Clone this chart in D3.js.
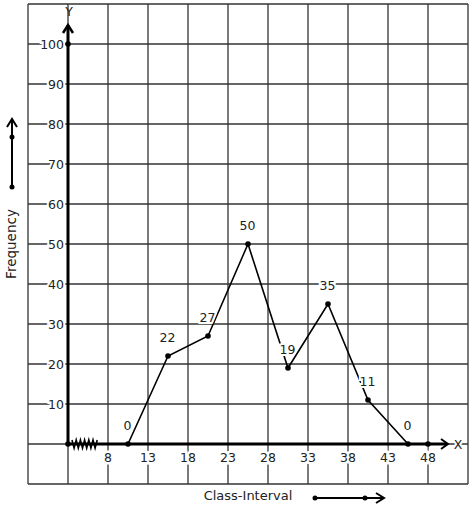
<!DOCTYPE html>
<html>
<head>
<meta charset="utf-8">
<script src="https://cdn.jsdelivr.net/npm/d3@7"></script>
<style>
  html, body { margin: 0; padding: 0; background: #fff; }
  svg { display: block; font-family: "DejaVu Sans", sans-serif; }
</style>
</head>
<body>
<svg id="chart" width="473" height="510"></svg>
<script>
// ---- data ----
const classMarks = [10.5, 15.5, 20.5, 25.5, 30.5, 35.5, 40.5, 45.5];
const frequencies = [0, 22, 27, 50, 19, 35, 11, 0];
const xTickValues = [8, 13, 18, 23, 28, 33, 38, 43, 48];
const yTickValues = [10, 20, 30, 40, 50, 60, 70, 80, 90, 100];
const xGridValues = [-2, 3, 8, 13, 18, 23, 28, 33, 38, 43, 48, 53];
const yGridValues = [-10, 0, 10, 20, 30, 40, 50, 60, 70, 80, 90, 100, 110];

const svg = d3.select("#chart");
const x = d3.scaleLinear().domain([3, 48]).range([68, 428]);
const y = d3.scaleLinear().domain([0, 100]).range([444, 44]);

const gridColor = "#333";
const xMin = x(-2), xMax = x(53), yTop = y(110), yBot = y(-10);

// grid
const grid = svg.append("g").attr("stroke", gridColor).attr("stroke-width", 1.3);
grid.selectAll("line.v").data(xGridValues).join("line")
  .attr("x1", d => x(d)).attr("x2", d => x(d)).attr("y1", yTop).attr("y2", yBot);
grid.selectAll("line.h").data(yGridValues).join("line")
  .attr("y1", d => y(d)).attr("y2", d => y(d)).attr("x1", xMin).attr("x2", xMax);

// y tick labels
svg.append("g").selectAll("text").data(yTickValues).join("text")
  .attr("x", x(3) - 4).attr("y", d => y(d)).attr("dy", "0.36em")
  .attr("text-anchor", "end").attr("font-size", 12.5).attr("fill", "#222")
  .attr("stroke", "#fff").attr("stroke-width", 4).attr("paint-order", "stroke")
  .text(d => d);

// x tick labels
svg.append("g").selectAll("text").data(xTickValues).join("text")
  .attr("x", d => x(d)).attr("y", y(0) + 13).attr("dy", "0.36em")
  .attr("text-anchor", "middle").attr("font-size", 12.5).attr("fill", "#222")
  .attr("stroke", "#fff").attr("stroke-width", 5).attr("paint-order", "stroke")
  .text(d => d);

// axes
const x0 = x(3), y0 = y(0);
svg.append("line").attr("x1", x0).attr("x2", 447).attr("y1", y0).attr("y2", y0)
  .attr("stroke", "#000").attr("stroke-width", 3);
svg.append("line").attr("x1", x0).attr("x2", x0).attr("y1", y0).attr("y2", 25)
  .attr("stroke", "#000").attr("stroke-width", 3);
// arrowheads
svg.append("path").attr("d", `M441,${y0 - 5}L448,${y0}L441,${y0 + 5}`)
  .attr("fill", "none").attr("stroke", "#000").attr("stroke-width", 2);
svg.append("path").attr("d", `M${x0 - 5},33L${x0},25L${x0 + 5},33`)
  .attr("fill", "none").attr("stroke", "#000").attr("stroke-width", 2.5);
// axis letters
svg.append("text").attr("x", 458).attr("y", y0).attr("dy", "0.36em")
  .attr("text-anchor", "middle").attr("font-size", 12.5).attr("fill", "#222")
  .attr("stroke", "#fff").attr("stroke-width", 4).attr("paint-order", "stroke").text("X");
svg.append("text").attr("x", x0 + 1).attr("y", 11).attr("dy", "0.36em")
  .attr("text-anchor", "middle").attr("font-size", 12.5).attr("fill", "#222").text("Y");

// zigzag (break) on x axis
const zz = [];
for (let i = 0; i <= 12; i++) zz.push([72 + i * 2.1, i % 2 === 0 ? y0 - 4 : y0 + 4]);
svg.append("path").attr("d", d3.line()(zz))
  .attr("fill", "none").attr("stroke", "#000").attr("stroke-width", 1.6);

// axis dots
svg.append("g").selectAll("circle").data([[x0, y0], [x0, y(100)], [x(48), y0]]).join("circle")
  .attr("cx", d => d[0]).attr("cy", d => d[1]).attr("r", 2.8).attr("fill", "#000");

// frequency polygon
const pts = classMarks.map((c, i) => [x(c), y(frequencies[i])]);
svg.append("path").attr("d", d3.line()(pts))
  .attr("fill", "none").attr("stroke", "#000").attr("stroke-width", 1.6);
svg.append("g").selectAll("circle").data(pts).join("circle")
  .attr("cx", d => d[0]).attr("cy", d => d[1]).attr("r", 2.8).attr("fill", "#000");

// value labels
svg.append("g").selectAll("text").data(classMarks).join("text")
  .attr("x", (c) => x(c) - 0.5)
  .attr("y", (c, i) => y(frequencies[i]) - 14)
  .attr("text-anchor", "middle").attr("font-size", 12.5).attr("fill", "#222")
  .attr("stroke", "#fff").attr("stroke-width", 4).attr("paint-order", "stroke")
  .text((c, i) => frequencies[i]);

// axis titles
svg.append("text").attr("transform", "translate(16,244) rotate(-90)")
  .attr("text-anchor", "middle").attr("font-size", 13.5).attr("fill", "#222").text("Frequency");
svg.append("text").attr("x", 248).attr("y", 500)
  .attr("text-anchor", "middle").attr("font-size", 13).attr("fill", "#222").text("Class-Interval");

// decorative arrows next to titles
svg.append("line").attr("x1", 12).attr("x2", 12).attr("y1", 187).attr("y2", 119)
  .attr("stroke", "#000").attr("stroke-width", 2);
svg.append("path").attr("d", "M7,127L12,119L17,127")
  .attr("fill", "none").attr("stroke", "#000").attr("stroke-width", 2);
svg.append("g").selectAll("circle").data([137, 187]).join("circle")
  .attr("cx", 12).attr("cy", d => d).attr("r", 2.5).attr("fill", "#000");

svg.append("line").attr("x1", 315).attr("x2", 384).attr("y1", 498).attr("y2", 498)
  .attr("stroke", "#000").attr("stroke-width", 2);
svg.append("path").attr("d", "M376,493L384,498L376,503")
  .attr("fill", "none").attr("stroke", "#000").attr("stroke-width", 2);
svg.append("g").selectAll("circle").data([315, 365]).join("circle")
  .attr("cx", d => d).attr("cy", 498).attr("r", 2.5).attr("fill", "#000");
</script>
</body>
</html>
